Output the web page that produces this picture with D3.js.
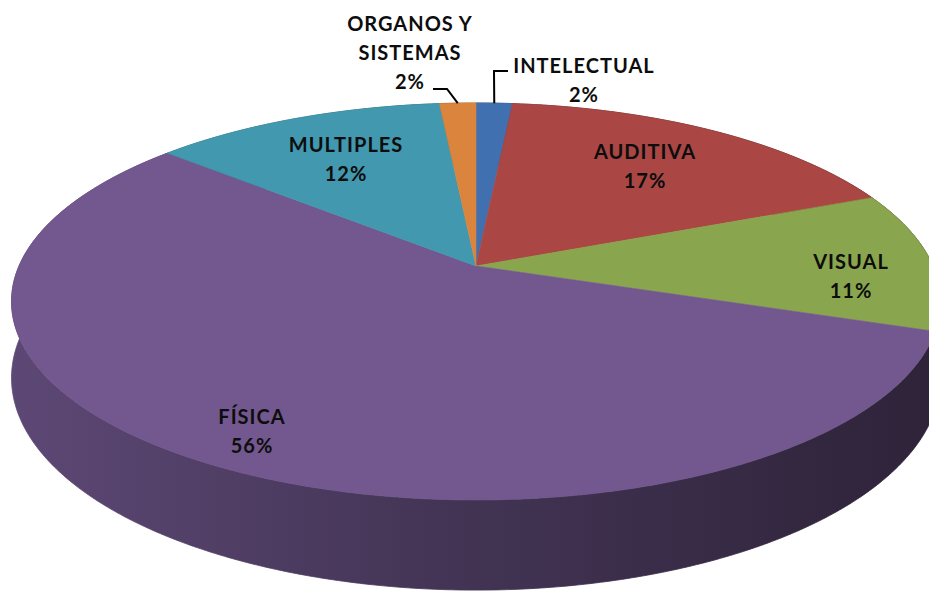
<!DOCTYPE html>
<html><head><meta charset="utf-8">
<script src="https://cdn.jsdelivr.net/npm/d3@7"></script>
<style>html,body{margin:0;padding:0;background:#fff;overflow:hidden}svg{display:block}</style>
</head><body>
<svg id="c" width="929" height="593"></svg>
<script>
const categories = ["INTELECTUAL", "AUDITIVA", "VISUAL", "FÍSICA", "MULTIPLES", "ORGANOS Y SISTEMAS"];
const values = [1.5, 17.3, 11.4, 56.2, 12.1, 1.5];
const topColors = ["#4170B0", "#AA4643", "#89A54E", "#72588F", "#4198AF", "#DB843D"];
const labelLines = [["INTELECTUAL"], ["AUDITIVA"], ["VISUAL"], ["FÍSICA"], ["MULTIPLES"], ["ORGANOS Y", "SISTEMAS"]];

const svg = d3.select("#c");

// perspective projection of the pie disc
const P = {cx: 476, a: 144.6, b: 266, c: -0.1788, A: 457, D: 74};
function proj(theta, r, depth) {
  const u = r * Math.sin(theta), v = -r * Math.cos(theta);
  const den = 1 + P.c * v;
  return [P.cx + P.A * u / den, (P.a * v + P.b) / den + depth * P.D / den];
}

const pie = d3.pie().sort(null).value(d => d).startAngle(0).endAngle(2 * Math.PI);
const arcs = pie(values);
const line = d3.line();

function arcPts(a0, a1, depth) {
  const n = Math.max(4, Math.ceil((a1 - a0) / 0.01));
  return d3.range(n + 1).map(i => proj(a0 + (a1 - a0) * i / n, 1, depth));
}

const defs = svg.append("defs");
const grads = topColors.map((col, i) => {
  const g = defs.append("linearGradient").attr("id", "side" + i)
    .attr("gradientUnits", "userSpaceOnUse").attr("x1", 12).attr("x2", 935).attr("y1", 0).attr("y2", 0);
  const c = d3.hsl(col);
  g.append("stop").attr("offset", 0).attr("stop-color", d3.hsl(c.h, c.s, c.l * 0.82).toString());
  g.append("stop").attr("offset", 0.45).attr("stop-color", d3.hsl(c.h, c.s, c.l * 0.6).toString());
  g.append("stop").attr("offset", 1).attr("stop-color", d3.hsl(c.h, c.s, c.l * 0.4).toString());
  return "url(#side" + i + ")";
});

// side bands (outer wall)
const sideG = svg.append("g");
arcs.forEach((d, i) => {
  const top = arcPts(d.startAngle, d.endAngle, 0);
  const bot = arcPts(d.startAngle, d.endAngle, 1).reverse();
  sideG.append("path").attr("d", line(top.concat(bot)) + "Z")
    .attr("fill", grads[i]).attr("stroke", grads[i]).attr("stroke-width", 0.8);
});

// top faces
const topG = svg.append("g");
const center = proj(0, 0, 0);
arcs.forEach((d, i) => {
  const pts = [center].concat(arcPts(d.startAngle, d.endAngle, 0));
  topG.append("path").attr("d", line(pts) + "Z")
    .attr("fill", topColors[i]).attr("stroke", topColors[i]).attr("stroke-width", 0.6);
});

// labels
const labelPos = [[584, 59], [645, 145], [851, 255], [252, 410], [346, 138], [410, 17]];
const lg = svg.append("g").attr("font-family", "Lato, 'Open Sans', sans-serif")
  .attr("font-weight", "bold").attr("font-size", 20).attr("fill", "#0d0d0d")
  .attr("text-anchor", "middle").attr("letter-spacing", 1);
arcs.forEach((d, i) => {
  const lines = labelLines[i].concat([Math.round(d.data) + "%"]);
  const t = lg.append("text").attr("x", labelPos[i][0]).attr("y", labelPos[i][1]);
  lines.forEach((s, k) => {
    t.append("tspan").attr("x", labelPos[i][0]).attr("dy", k === 0 ? "0.72em" : "1.45em").text(s);
  });
});

// leader lines for the two small slices
const mid0 = proj((arcs[0].startAngle + arcs[0].endAngle) / 2, 1, 0);
const mid5 = proj((arcs[5].startAngle + arcs[5].endAngle) / 2, 1, 0);
svg.append("path").attr("d", line([[508, 71], [494, 71], [mid0[0], mid0[1]]]))
  .attr("fill", "none").attr("stroke", "#000").attr("stroke-width", 2);
svg.append("path").attr("d", line([[433, 89], [447, 89], [mid5[0], mid5[1]]]))
  .attr("fill", "none").attr("stroke", "#000").attr("stroke-width", 2);
</script>
</body></html>
